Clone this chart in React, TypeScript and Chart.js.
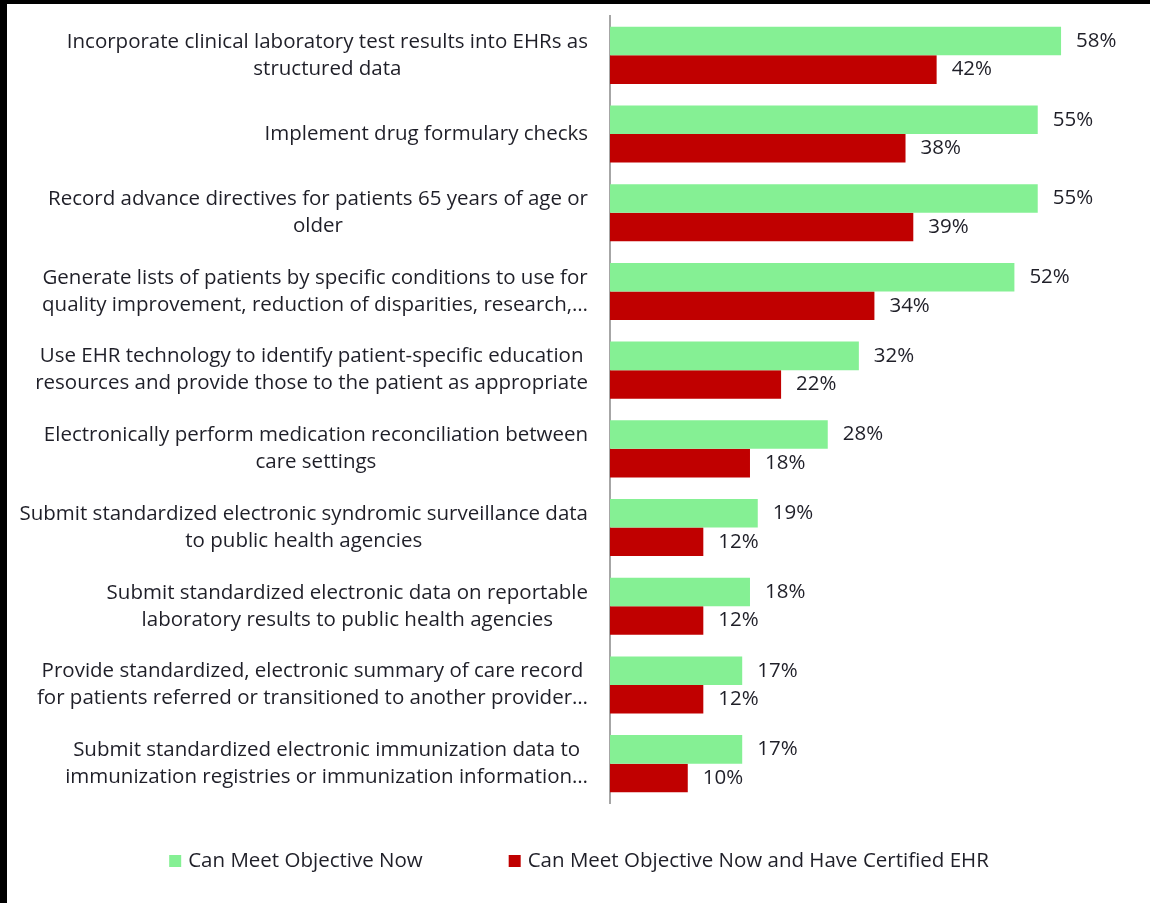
import React, { useEffect, useRef } from "react";
import { Chart, registerables } from "chart.js";

Chart.register(...registerables);

const categories: string[][] = [
  ["Incorporate clinical laboratory test results into EHRs as", "structured data"],
  ["Implement drug formulary checks"],
  ["Record advance directives for patients 65 years of age or", "older"],
  ["Generate lists of patients by specific conditions to use for", "quality improvement, reduction of disparities, research,…"],
  ["Use EHR technology to identify patient-specific education", "resources and provide those to the patient as appropriate"],
  ["Electronically perform medication reconciliation between", "care settings"],
  ["Submit standardized electronic syndromic surveillance data", "to public health agencies"],
  ["Submit standardized electronic data on reportable", "laboratory results to public health agencies"],
  ["Provide standardized, electronic summary of care record", "for patients referred or transitioned to another provider…"],
  ["Submit standardized electronic immunization data to", "immunization registries or immunization information…"],
];

const canMeetNow = [58, 55, 55, 52, 32, 28, 19, 18, 17, 17];
const canMeetCertified = [42, 38, 39, 34, 22, 18, 12, 12, 12, 10];

const seriesNames = ["Can Meet Objective Now", "Can Meet Objective Now and Have Certified EHR"];
const seriesColors = ["#85F094", "#C00000"];

const FONT = "'Open Sans', Lato, sans-serif";
const TEXT_COLOR = "#1f1f28";

const labelsPlugin = {
  id: "customLabels",
  afterDraw(chart: any) {
    const ctx = chart.ctx;
    const yScale = chart.scales.y;
    ctx.save();
    // category labels: each block right-aligned, lines centered in block
    ctx.font = `20.5px ${FONT}`;
    ctx.fillStyle = TEXT_COLOR;
    ctx.textBaseline = "middle";
    ctx.textAlign = "center";
    const rightEdge = 588;
    const lineH = 27;
    (chart.data.labels as string[][]).forEach((lines, i) => {
      const y = yScale.getPixelForValue(i);
      const w = Math.max(...lines.map((l) => ctx.measureText(l).width));
      const cx = rightEdge - w / 2;
      lines.forEach((l, j) => {
        ctx.fillText(l, cx, y + (j - (lines.length - 1) / 2) * lineH);
      });
    });
    // value labels
    ctx.textAlign = "left";
    chart.data.datasets.forEach((ds: any, di: number) => {
      const meta = chart.getDatasetMeta(di);
      meta.data.forEach((bar: any, i: number) => {
        ctx.fillText(ds.data[i] + "%", bar.x + 15, bar.y);
      });
    });
    // legend
    const boxSize = 12;
    const boxGap = 7;
    const itemGap = 86;
    const items = chart.data.datasets.map((ds: any) => ({
      text: ds.label,
      color: ds.backgroundColor,
      w: boxSize + boxGap + ctx.measureText(ds.label).width,
    }));
    const total = items.reduce((s: number, it: any) => s + it.w, 0) + itemGap * (items.length - 1);
    let x = chart.width / 2 - total / 2 + 4;
    const ly = 861;
    items.forEach((it: any) => {
      ctx.fillStyle = it.color;
      ctx.fillRect(x, ly - boxSize / 2, boxSize, boxSize);
      ctx.fillStyle = TEXT_COLOR;
      ctx.fillText(it.text, x + boxSize + boxGap, ly);
      x += it.w + itemGap;
    });
    ctx.restore();
  },
};

export default function App() {
  const canvasRef = useRef<HTMLCanvasElement | null>(null);

  useEffect(() => {
    if (!canvasRef.current) return;
    const chart = new Chart(canvasRef.current, {
      type: "bar",
      data: {
        labels: categories,
        datasets: [
          {
            label: seriesNames[0],
            data: canMeetNow,
            backgroundColor: seriesColors[0],
            categoryPercentage: 0.725,
            barPercentage: 1,
          },
          {
            label: seriesNames[1],
            data: canMeetCertified,
            backgroundColor: seriesColors[1],
            categoryPercentage: 0.725,
            barPercentage: 1,
          },
        ],
      },
      options: {
        indexAxis: "y",
        animation: false,
        responsive: false,
        maintainAspectRatio: false,
        layout: { padding: { left: 602, right: 34.5, top: 16, bottom: 100 } },
        plugins: {
          legend: { display: false },
          tooltip: { enabled: false },
        },
        scales: {
          x: { display: false, min: 0, max: 65 },
          y: {
            display: true,
            ticks: { display: false },
            grid: { display: false },
            border: { display: true, color: "#a6a6a6", width: 2 },
          },
        },
      },
      plugins: [labelsPlugin],
    });
    return () => chart.destroy();
  }, []);

  return (
    <div style={{ position: "absolute", left: 0, top: 0, width: 1150, height: 903, background: "#fff" }}>
      <canvas ref={canvasRef} width={1150} height={903} style={{ display: "block" }} />
      <div
        style={{
          position: "absolute",
          left: 0,
          top: 0,
          width: 1150,
          height: 903,
          boxSizing: "border-box",
          borderLeft: "7px solid #000",
          borderTop: "4px solid #000",
          pointerEvents: "none",
        }}
      />
    </div>
  );
}
